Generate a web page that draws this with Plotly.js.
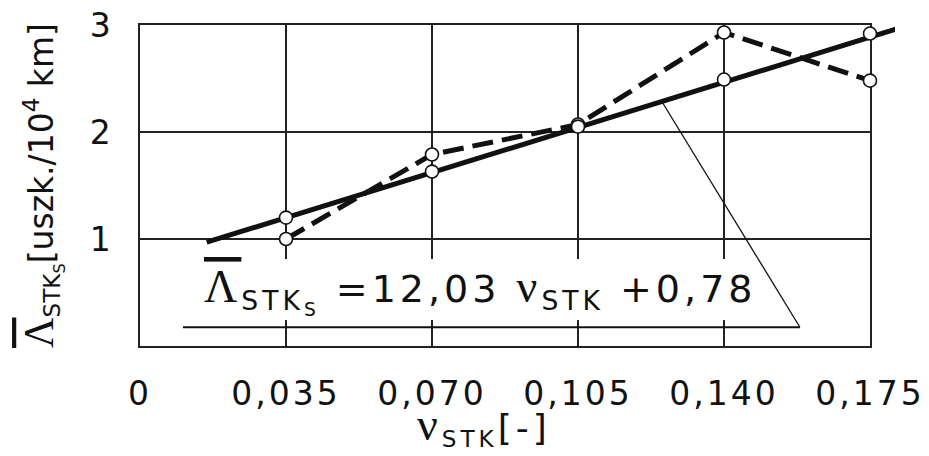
<!DOCTYPE html>
<html>
<head>
<meta charset="utf-8">
<script src="https://cdn.plot.ly/plotly-3.0.1.min.js"></script>
<style>
  html, body { margin: 0; padding: 0; background: #fff; }
  #chart { width: 929px; height: 456px; }
  .xtick text { letter-spacing: 3px; }
  .ytick text { letter-spacing: 1px; }
  .annotation-text { letter-spacing: 4px; }
</style>
</head>
<body>
<div id="chart"></div>
<script>
// ---- data ----
const nuValues = [0.035, 0.070, 0.105, 0.140, 0.175];
const measuredDashed = [1.00, 1.79, 2.07, 2.93, 2.48];
const measuredSolid = [1.20, 1.63, 2.05, 2.49, 2.92];
const fitLineX = [0.016, 0.1815];
const fitLineY = [0.97, 2.965];
const xTickVals = [0, 0.035, 0.070, 0.105, 0.140, 0.175];
const xTickText = ['0', '0,035', '0,070', '0,105', '0,140', '0,175'];
const yTickVals = [1, 2, 3];
const yTickText = ['1', '2', '3'];

const SERIF = 'Liberation Serif';
const SANS = 'DejaVu Sans';

const markerStyle = { symbol: 'circle', size: 13, color: '#fff', line: { color: '#111', width: 1.6 } };

const traces = [
  {
    x: nuValues, y: measuredDashed, xaxis: 'x', yaxis: 'y',
    mode: 'lines', line: { color: '#111', width: 5, dash: '21px,9px' }, hoverinfo: 'skip'
  },
  {
    x: fitLineX, y: fitLineY, xaxis: 'x2', yaxis: 'y2',
    mode: 'lines', line: { color: '#111', width: 5 }, hoverinfo: 'skip'
  },
  {
    x: nuValues, y: measuredDashed, xaxis: 'x2', yaxis: 'y2', mode: 'markers', cliponaxis: false,
    marker: markerStyle, hoverinfo: 'skip'
  },
  {
    x: nuValues, y: measuredSolid, xaxis: 'x2', yaxis: 'y2', mode: 'markers', cliponaxis: false,
    marker: markerStyle, hoverinfo: 'skip'
  }
];

const plotFrac = 730 / 755;

const layout = {
  width: 929, height: 456,
  margin: { l: 140, r: 34, t: 25, b: 110 },
  paper_bgcolor: '#fff', plot_bgcolor: 'rgba(0,0,0,0)',
  showlegend: false,
  font: { family: SANS, color: '#111' },
  xaxis: {
    domain: [0, plotFrac],
    range: [0, 0.175],
    tickvals: xTickVals, ticktext: xTickText,
    showgrid: true, gridcolor: '#222', gridwidth: 1.6,
    showline: true, linecolor: '#222', linewidth: 1.6, mirror: true,
    zeroline: false, ticks: '',
    ticklabelstandoff: 18,
    tickfont: { family: SANS, size: 33, color: '#111' },
    automargin: false
  },
  yaxis: {
    range: [0, 3],
    tickvals: yTickVals, ticktext: yTickText,
    showgrid: true, gridcolor: '#222', gridwidth: 1.6,
    showline: true, linecolor: '#222', linewidth: 1.6, mirror: true,
    zeroline: false, ticks: '',
    ticklabelstandoff: 20,
    tickfont: { family: SANS, size: 33, color: '#111' },
    automargin: false,
    title: {
      text: '<span style="font-family:' + SERIF + ';font-size:42px;text-decoration:overline">Λ</span><sub>STK<sub>S</sub></sub>[uszk./10<sup>4</sup> km]',
      font: { family: SANS, size: 33, color: '#111' },
      standoff: 26
    }
  },
  xaxis2: {
    domain: [0, 1], range: [0, 0.175 / plotFrac],
    anchor: 'y2', visible: false, showgrid: false, zeroline: false
  },
  yaxis2: {
    domain: [0, 1], range: [0, 3],
    anchor: 'x2', visible: false, showgrid: false, zeroline: false
  },
  shapes: [
    { type: 'rect', xref: 'x', yref: 'y', x0: 0.012, x1: 0.1527, y0: 0.243, y1: 0.813,
      fillcolor: '#fff', line: { width: 0 }, layer: 'above' },
    { type: 'line', xref: 'x', yref: 'y', x0: 0.0103, x1: 0.1582, y0: 0.175, y1: 0.175,
      line: { color: '#111', width: 2 }, layer: 'above' },
    { type: 'line', xref: 'x', yref: 'y', x0: 0.1251, y0: 2.285, x1: 0.1582, y1: 0.175,
      line: { color: '#111', width: 1.3 }, layer: 'above' }
  ],
  annotations: [
    {
      xref: 'x', yref: 'y', x: 0.0815, y: 0.52, showarrow: false,
      text: '<span style="font-family:' + SERIF + ';font-size:46px;text-decoration:overline">Λ</span><sub>STK<sub>S</sub></sub> =12,03 <span style="font-family:' + SERIF + ';font-size:46px">ν</span><sub>STK</sub> +0,78',
      font: { family: SANS, size: 38, color: '#111' }
    },
    {
      xref: 'paper', yref: 'paper', x: 0.455, y: -0.337, xanchor: 'center', yanchor: 'bottom',
      showarrow: false,
      text: '<span style="font-family:' + SERIF + ';font-size:46px">ν</span><sub>STK</sub><span style="font-size:36px">[-]</span>',
      font: { family: SANS, size: 33, color: '#111' }
    }
  ]
};

Plotly.newPlot('chart', traces, layout, { staticPlot: true, displayModeBar: false });
</script>
</body>
</html>
